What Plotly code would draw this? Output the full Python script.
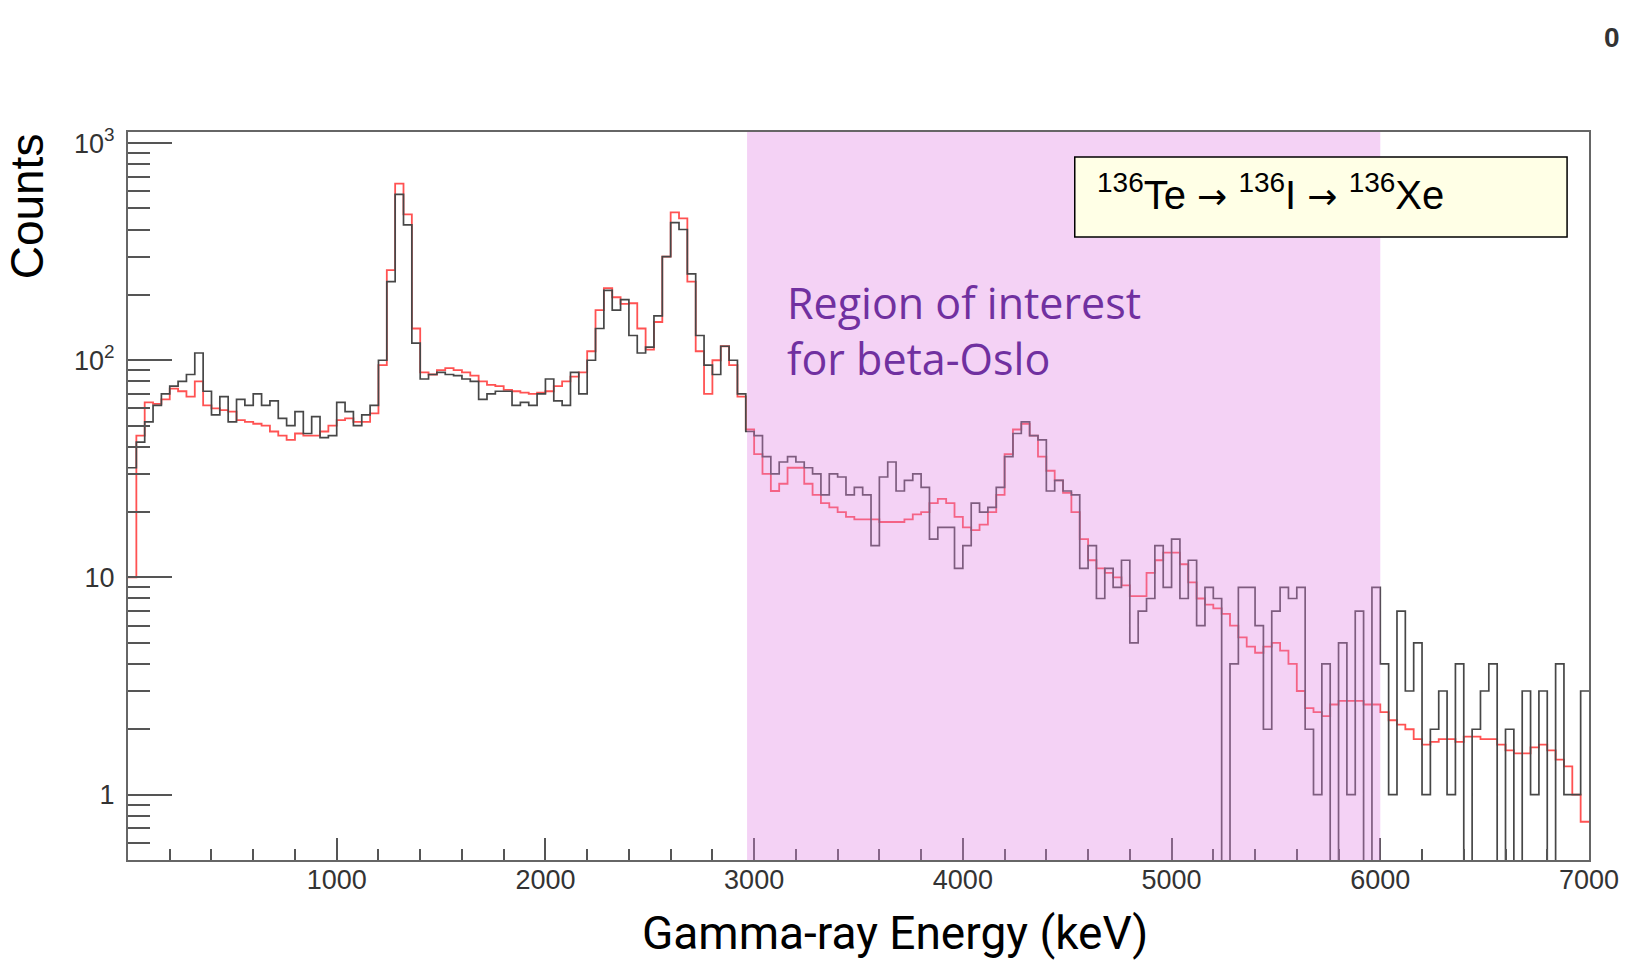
import plotly.graph_objects as go

# ---------------- data ----------------
BIN_WIDTH = 40  # keV
N_BINS = 175    # 0 .. 7000 keV

# measured spectrum (black, counts per bin)
data_counts = [
    32, 42, 52, 62, 70, 76, 80, 86, 108, 72,
    56, 68, 52, 66, 62, 70, 62, 65, 54, 50,
    58, 46, 55, 44, 45, 64, 58, 50, 56, 62,
    100, 230, 580, 420, 120, 82, 86, 88, 86, 85,
    82, 80, 66, 70, 72, 72, 62, 64, 62, 70,
    82, 65, 62, 88, 70, 100, 140, 210, 170, 190,
    130, 108, 115, 160, 300, 430, 400, 250, 130, 95,
    86, 116, 100, 70, 47, 45, 36, 30, 34, 36,
    34, 32, 30, 24, 30, 29, 24, 26, 24, 14,
    29, 34, 25, 28, 30, 26, 15, 17, 17, 11,
    14, 22, 20, 21, 26, 36, 46, 52, 45, 43,
    25, 28, 25, 24, 11, 14, 8, 11, 9, 12,
    5, 7, 8, 14, 9, 15, 8, 12, 6, 9,
    8, 0, 4, 9, 9, 6, 2, 7, 9, 8,
    9, 2, 1, 4, 0, 5, 1, 7, 0, 9,
    4, 1, 7, 3, 5, 1, 2, 3, 1, 4,
    0, 2, 3, 4, 0, 2, 0, 3, 1, 3,
    0, 4, 1, 1, 3,
]

# simulated spectrum (red)
sim_counts = [
    10, 45, 64, 63, 66, 74, 72, 68, 80, 62,
    60, 59, 58, 53, 52, 51, 50, 47, 45, 43,
    46, 45, 45, 47, 50, 53, 54, 52, 52, 57,
    95, 260, 650, 470, 140, 88, 86, 90, 92, 90,
    88, 85, 80, 77, 76, 73, 72, 71, 70, 71,
    72, 76, 80, 84, 88, 110, 170, 215, 195, 182,
    183, 140, 112, 150, 300, 480, 450, 230, 110, 70,
    100, 116, 95, 68, 48, 37, 30, 25, 27, 32,
    32, 27, 24, 22, 21, 20, 19, 18.5, 18.5, 18.5,
    18, 18, 18, 18.5, 19.5, 20, 22, 23, 22, 19,
    17, 16.5, 17.5, 20, 24, 37, 48, 51, 45, 36,
    31, 28, 24.5, 20, 15, 12, 11, 10.5, 10, 9.2,
    8.2, 8.2, 10.5, 12, 13, 13, 11.5, 9.5, 8, 7.5,
    7.2, 6.8, 6, 5.3, 4.8, 4.5, 4.8, 5, 4.6, 4.0,
    3.0, 2.5, 2.4, 2.3, 2.6, 2.7, 2.7, 2.7, 2.6, 2.6,
    2.4, 2.2, 2.1, 2.0, 1.8, 1.7, 1.75, 1.8, 1.8, 1.75,
    1.85, 1.85, 1.8, 1.8, 1.7, 1.6, 1.55, 1.55, 1.65, 1.7,
    1.6, 1.45, 1.35, 1.0, 0.75,
]

roi_keV = [2966, 6000]
x_tick_vals = [1000, 2000, 3000, 4000, 5000, 6000, 7000]
y_tick_vals = [1, 10, 100, 1000]
y_tick_text = ["1", "10", "10<sup>2</sup>", "10<sup>3</sup>"]

# ---------------- helpers ----------------
edges = [i * BIN_WIDTH for i in range(N_BINS + 1)]
FLOOR = 0.3  # empty bins drop to the bottom of the log frame


def step(vals):
    ys = [max(v, FLOOR) for v in vals]
    return edges, ys + [ys[-1]]


x_minor = [v for v in range(200, 7000, 200) if v % 1000]
y_minor = [m * 10 ** e for e in range(-1, 3) for m in range(2, 10)]
y_minor = [v for v in y_minor if v >= 0.5]

fig = go.Figure()
sx, sy = step(sim_counts)
fig.add_trace(go.Scatter(x=sx, y=sy, mode="lines", line_shape="hv",
                         line=dict(color="#ff5252", width=1.8),
                         hoverinfo="skip"))
dx, dy = step(data_counts)
fig.add_trace(go.Scatter(x=dx, y=dy, mode="lines", line_shape="hv",
                         line=dict(color="#474747", width=1.7),
                         hoverinfo="skip"))

PLOT_L, PLOT_R, PLOT_T, PLOT_B = 128, 1594, 132, 860
PW, PH = PLOT_R - PLOT_L, PLOT_B - PLOT_T


def px(x):
    return (x - PLOT_L) / PW


def py(y):
    return 1 - (y - PLOT_T) / PH


shapes = [
    dict(type="rect", xref="x", yref="paper", x0=roi_keV[0], x1=roi_keV[1],
         y0=0, y1=1, fillcolor="rgba(224,129,227,0.36)", line_width=0,
         layer="above"),
    dict(type="rect", xref="paper", yref="paper", x0=px(1078), x1=px(1572),
         y0=py(237), y1=py(157), fillcolor="#ffffe6",
         line=dict(color="black", width=1.5), layer="above"),
]

ARROW = '<span style="font-family:DejaVu Sans;font-size:36px">→</span>'

annotations = [
    dict(text="<sup>136</sup>Te " + ARROW + " <sup>136</sup>I " + ARROW
         + " <sup>136</sup>Xe",
         xref="paper", yref="paper", x=px(1098), y=py(192),
         xanchor="left", yanchor="middle", showarrow=False,
         font=dict(family="Liberation Sans, Arial, sans-serif", size=40,
                   color="black")),
    dict(text="Region of interest<br>for beta-Oslo",
         xref="paper", yref="paper", x=px(787), y=py(331),
         xanchor="left", yanchor="middle", align="left", showarrow=False,
         font=dict(family="Open Sans, sans-serif", size=43, color="#7030a0")),
    dict(text="Counts", xref="paper", yref="paper", x=px(27), y=py(206),
         xanchor="center", yanchor="middle", textangle=-90, showarrow=False,
         font=dict(family="Liberation Sans, Arial, sans-serif", size=46,
                   color="black")),
    dict(text="Gamma-ray Energy (keV)", xref="paper", yref="paper",
         x=px(898), y=py(933), xanchor="center", yanchor="middle",
         showarrow=False,
         font=dict(family="Roboto, sans-serif", size=46, color="black")),
    dict(text="<b>0</b>", xref="paper", yref="paper", x=px(1617), y=py(37),
         xanchor="center", yanchor="middle", showarrow=False,
         font=dict(family="Liberation Sans, Arial, sans-serif", size=28,
                   color="#333")),
]

tickfont = dict(family="Liberation Sans, Arial, sans-serif", size=27,
                color="#333")

fig.update_layout(
    width=1631, height=960,
    margin=dict(l=PLOT_L, r=1631 - PLOT_R, t=PLOT_T, b=960 - PLOT_B),
    paper_bgcolor="white", plot_bgcolor="white", showlegend=False,
    shapes=shapes, annotations=annotations,
    xaxis=dict(range=[0, 7000], tickmode="array", tickvals=x_tick_vals,
               ticks="inside", ticklen=22, tickwidth=1.5, tickcolor="#555",
               minor=dict(tickvals=x_minor, ticks="inside", ticklen=11,
                          tickwidth=1.5, tickcolor="#555"),
               showline=True, mirror=True, linecolor="#666", linewidth=2,
               showgrid=False, zeroline=False, tickfont=tickfont,
               ticklabelstandoff=-5),
    yaxis=dict(type="log", range=[-0.301, 3.051], tickmode="array",
               tickvals=y_tick_vals, ticktext=y_tick_text,
               ticks="inside", ticklen=44, tickwidth=1.5, tickcolor="#555",
               minor=dict(tickvals=y_minor, ticks="inside", ticklen=22,
                          tickwidth=1.5, tickcolor="#555"),
               showline=True, mirror=True, linecolor="#666", linewidth=2,
               showgrid=False, zeroline=False, tickfont=tickfont,
               ticklabelstandoff=6),
)

fig.write_html("out.html")
